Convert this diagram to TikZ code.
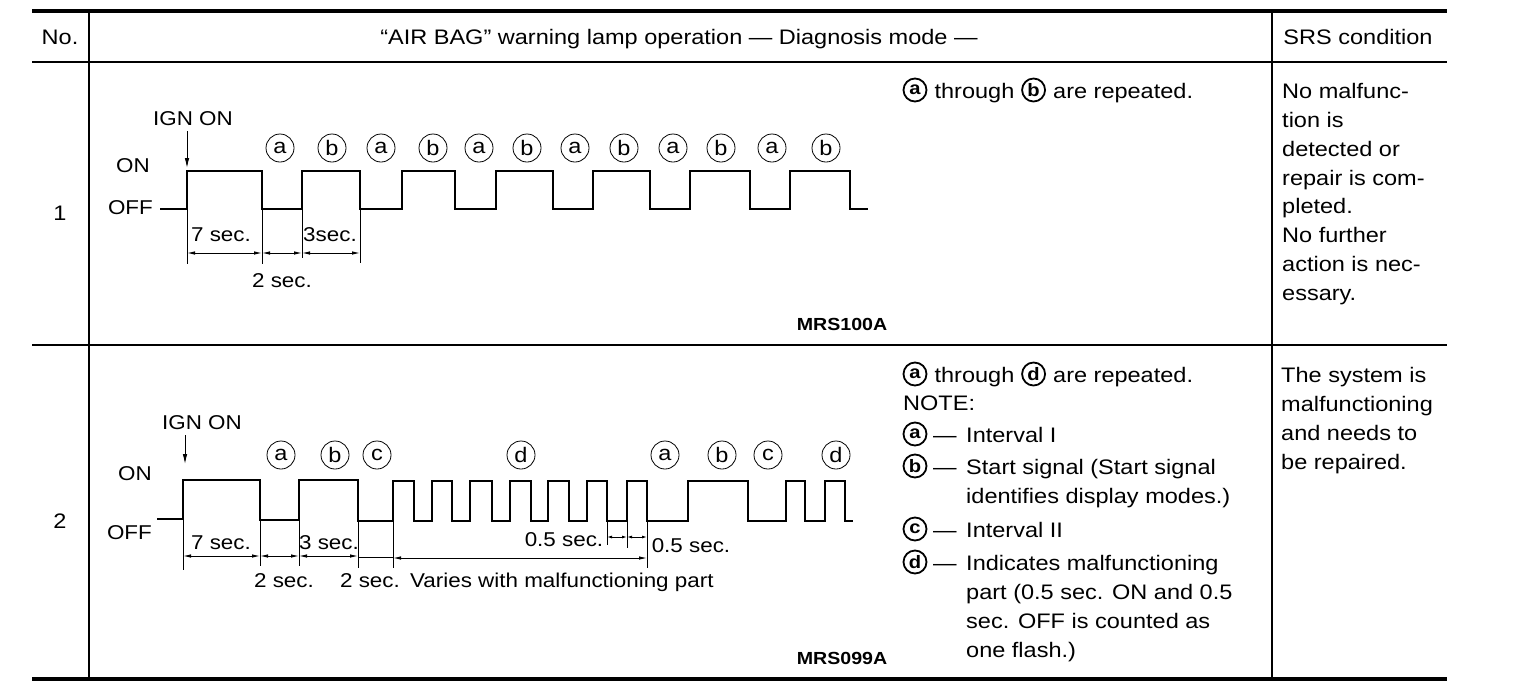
\documentclass[tikz,border=0pt]{standalone}
\usepackage{fontspec}
\setmainfont{Liberation Sans}[FakeStretch=1.12]
\usetikzlibrary{arrows.meta,calc}
\newcommand\mainf{\fontsize{21}{29}\selectfont}
\newcommand\wavef{\fontsize{20}{24}\selectfont}
\newcommand\codef{\fontsize{17.5}{20}\selectfont\bfseries}
\begin{document}
\begin{tikzpicture}[x=1pt,y=-1pt,
  txt/.style={font=\mainf,inner sep=0pt,anchor=base west},
  ctr/.style={font=\mainf,inner sep=0pt,anchor=base},
  wl/.style={font=\wavef,inner sep=0pt,anchor=base},
  code/.style={font=\codef,inner sep=0pt,anchor=base},
  cw/.style={circle,draw,line width=0.8pt,minimum size=28pt,inner sep=0pt,font=\fontsize{21}{24}\selectfont},
  ct/.style={circle,draw,line width=1.8pt,minimum size=23pt,inner sep=0pt,font=\fontsize{18}{20}\selectfont\bfseries},
  wave/.style={line width=2.6pt,line join=miter},
  ext/.style={line width=0.9pt},
  dimarr/.style={line width=0.9pt,{Latex[length=8pt,width=3.5pt]}-{Latex[length=8pt,width=3.5pt]}},
  smallarr/.style={line width=0.9pt,{Latex[length=5pt,width=3pt]}-{Latex[length=5pt,width=3pt]}},
  ignarr/.style={line width=0.9pt,-{Latex[length=10pt,width=4.5pt]}},
  rule/.style={line width=#1}]
\fill[white] (0,0) rectangle (1520,694);
\useasboundingbox (0,0) rectangle (1520,694);
% table rules
\draw[rule=3.5pt] (32,11) -- (1447,11);
\draw[rule=2.5pt] (32,62) -- (1447,62);
\draw[rule=2.8pt] (32,345) -- (1447,345);
\draw[rule=3.5pt] (32,679) -- (1447,679);
\draw[rule=1.3pt] (89,11) -- (89,679);
\draw[rule=2pt] (1272,11) -- (1272,679);
% header
\node[ctr] (hno) at (60,44) {No.};
\node[ctr] (hmain) at (679,44) {“AIR BAG” warning lamp operation — Diagnosis mode —};
\node[ctr] (hsrs) at (1358,44) {SRS condition};
\node[ctr] (n1) at (60,220) {1};
\node[ctr] (n2) at (60,528) {2};
% ===== row 1 waveform =====
\node[wl] (ign1) at (193,125) {IGN ON};
\coordinate (ig1s) at (187,131);
\coordinate (ig1e) at (187,168);
\draw[ignarr] (ig1s) -- (ig1e);
\node[wl,anchor=base east] (on1) at (150,172) {ON};
\node[wl,anchor=base east] (off1) at (153,214) {OFF};
\draw[wave] (160,209) -- (187,209) -- (187,171) -- (262,171) -- (262,209) -- (302,209) -- (302,171) -- (360,171) -- (360,209) -- (402,209) -- (402,171) -- (455,171) -- (455,209) -- (496,209) -- (496,171) -- (553,171) -- (553,209) -- (593,209) -- (593,171) -- (650,171) -- (650,209) -- (690,209) -- (690,171) -- (750,171) -- (750,209) -- (790,209) -- (790,171) -- (850,171) -- (850,209) -- (868,209);
\foreach \x/\l [count=\i] in {280/a,332/b,381/a,433/b,479/a,527/b,575/a,624/b,673/a,721/b,772/a,826/b}
  \node[cw] (w1c\i) at (\x,148) {\l};
\draw[ext] (187,209) -- (187,264);
\draw[ext] (262,209) -- (262,264);
\draw[ext] (302,209) -- (302,258);
\draw[ext] (360,209) -- (360,263);
\draw[dimarr] (187,253) -- (262,253);
\draw[dimarr] (262,253) -- (302,253);
\draw[dimarr] (302,253) -- (360,253);
\node[wl] (d1a) at (221,241) {7 sec.};
\node[wl] (d1b) at (330,241) {3sec.};
\node[wl] (d1c) at (282,287) {2 sec.};
\node[code] (mrs1) at (842,330) {MRS100A};
% row 1 description
\node[ct] (r1ca) at (915,90) {a};
\node[txt] (r1t1) at ($(r1ca.east)+(7,8)$) {through};
\node[ct] (r1cb) at ($(r1t1.base east)+(19,-8)$) {b};
\node[txt] (r1t2) at ($(r1cb.east)+(7,8)$) {are repeated.};
% row 1 SRS
\node[txt] (s1a) at (1282,98) {No malfunc-};
\node[txt] (s1b) at (1282,127) {tion is};
\node[txt] (s1c) at (1282,156) {detected or};
\node[txt] (s1d) at (1282,185) {repair is com-};
\node[txt] (s1e) at (1282,213) {pleted.};
\node[txt] (s1f) at (1282,242) {No further};
\node[txt] (s1g) at (1282,271) {action is nec-};
\node[txt] (s1h) at (1282,300) {essary.};
% ===== row 2 waveform =====
\node[wl] (ign2) at (202,429) {IGN ON};
\coordinate (ig2s) at (185,435);
\coordinate (ig2e) at (185,464);
\draw[ignarr] (ig2s) -- (ig2e);
\node[wl,anchor=base east] (on2) at (152,480) {ON};
\node[wl,anchor=base east] (off2) at (152,539) {OFF};
\draw[wave] (157,519) -- (183,519) -- (183,480) -- (260,480) -- (260,520) -- (299,520) -- (299,480) -- (358,480) -- (358,521) -- (393,521) -- (393,481) -- (414,481) -- (414,521) -- (432,521) -- (432,481) -- (452,481) -- (452,521) -- (470,521) -- (470,481) -- (492,481) -- (492,521) -- (510,521) -- (510,481) -- (531,481) -- (531,521) -- (548,521) -- (548,481) -- (569,481) -- (569,521) -- (587,521) -- (587,481) -- (607,481) -- (607,521) -- (627,521) -- (627,481) -- (647,481) -- (647,521) -- (688,521) -- (688,481) -- (748,481) -- (748,521) -- (786,521) -- (786,481) -- (805,481) -- (805,521) -- (825,521) -- (825,481) -- (845,481) -- (845,521) -- (853,521);
\foreach \x/\l [count=\i] in {281/a,335/b,377/c,521/d,665/a,722/b,768/c,836/d}
  \node[cw] (w2c\i) at (\x,455) {\l};
\draw[ext] (183,519) -- (183,570);
\draw[ext] (260,520) -- (260,566);
\draw[ext] (299,520) -- (299,566);
\draw[ext] (358,521) -- (358,568);
\draw[ext] (393,521) -- (393,568);
\draw[ext] (607,521) -- (607,545);
\draw[ext] (627,521) -- (627,548);
\draw[ext] (647,521) -- (647,568);
\draw[dimarr] (183,556) -- (260,556);
\draw[dimarr] (260,556) -- (299,556);
\draw[dimarr] (299,556) -- (358,556);
\draw[ext] (358,557) -- (393,557);
\draw[dimarr] (393,558) -- (647,558);
\draw[smallarr] (607,537) -- (627,537);
\draw[smallarr] (627,537) -- (647,537);
\node[wl] (d2a) at (221,549) {7 sec.};
\node[wl] (d2b) at (329,549) {3 sec.};
\node[wl] (d2c) at (284,587) {2 sec.};
\node[wl] (d2d) at (370,587) {2 sec.};
\node[wl,anchor=base west] (d2e) at (410,587) {Varies with malfunctioning part};
\node[wl] (d2f) at (564,546) {0.5 sec.};
\node[wl] (d2g) at (691,552) {0.5 sec.};
\node[code] (mrs2) at (842,664) {MRS099A};
% row 2 description
\node[ct] (r2ca) at (915,374) {a};
\node[txt] (r2t1) at ($(r2ca.east)+(7,8)$) {through};
\node[ct] (r2cd) at ($(r2t1.base east)+(19,-8)$) {d};
\node[txt] (r2t2) at ($(r2cd.east)+(7,8)$) {are repeated.};
\node[txt] (r2note) at (903,410) {NOTE:};
\node[ct] (r2na) at (915,434) {a};
\node[txt] (r2da) at (933,442) {—};
\node[txt] (r2ta) at (966,442) {Interval I};
\node[ct] (r2nb) at (915,466) {b};
\node[txt] (r2db) at (933,474) {—};
\node[txt] (r2tb) at (966,474) {Start signal (Start signal};
\node[txt] (r2tb2) at (966,503) {identifies display modes.)};
\node[ct] (r2nc) at (915,529) {c};
\node[txt] (r2dc) at (933,537) {—};
\node[txt] (r2tc) at (966,537) {Interval II};
\node[ct] (r2nd) at (915,562) {d};
\node[txt] (r2dd) at (933,570) {—};
\node[txt] (r2td) at (966,570) {Indicates malfunctioning};
\node[txt] (r2td2) at (966,599) {part (0.5 sec. ON and 0.5};
\node[txt] (r2td3) at (966,628) {sec. OFF is counted as};
\node[txt] (r2td4) at (966,657) {one flash.)};
% row 2 SRS
\node[txt] (s2a) at (1281,382) {The system is};
\node[txt] (s2b) at (1281,411) {malfunctioning};
\node[txt] (s2c) at (1281,440) {and needs to};
\node[txt] (s2d) at (1281,469) {be repaired.};
\end{tikzpicture}
\end{document}
